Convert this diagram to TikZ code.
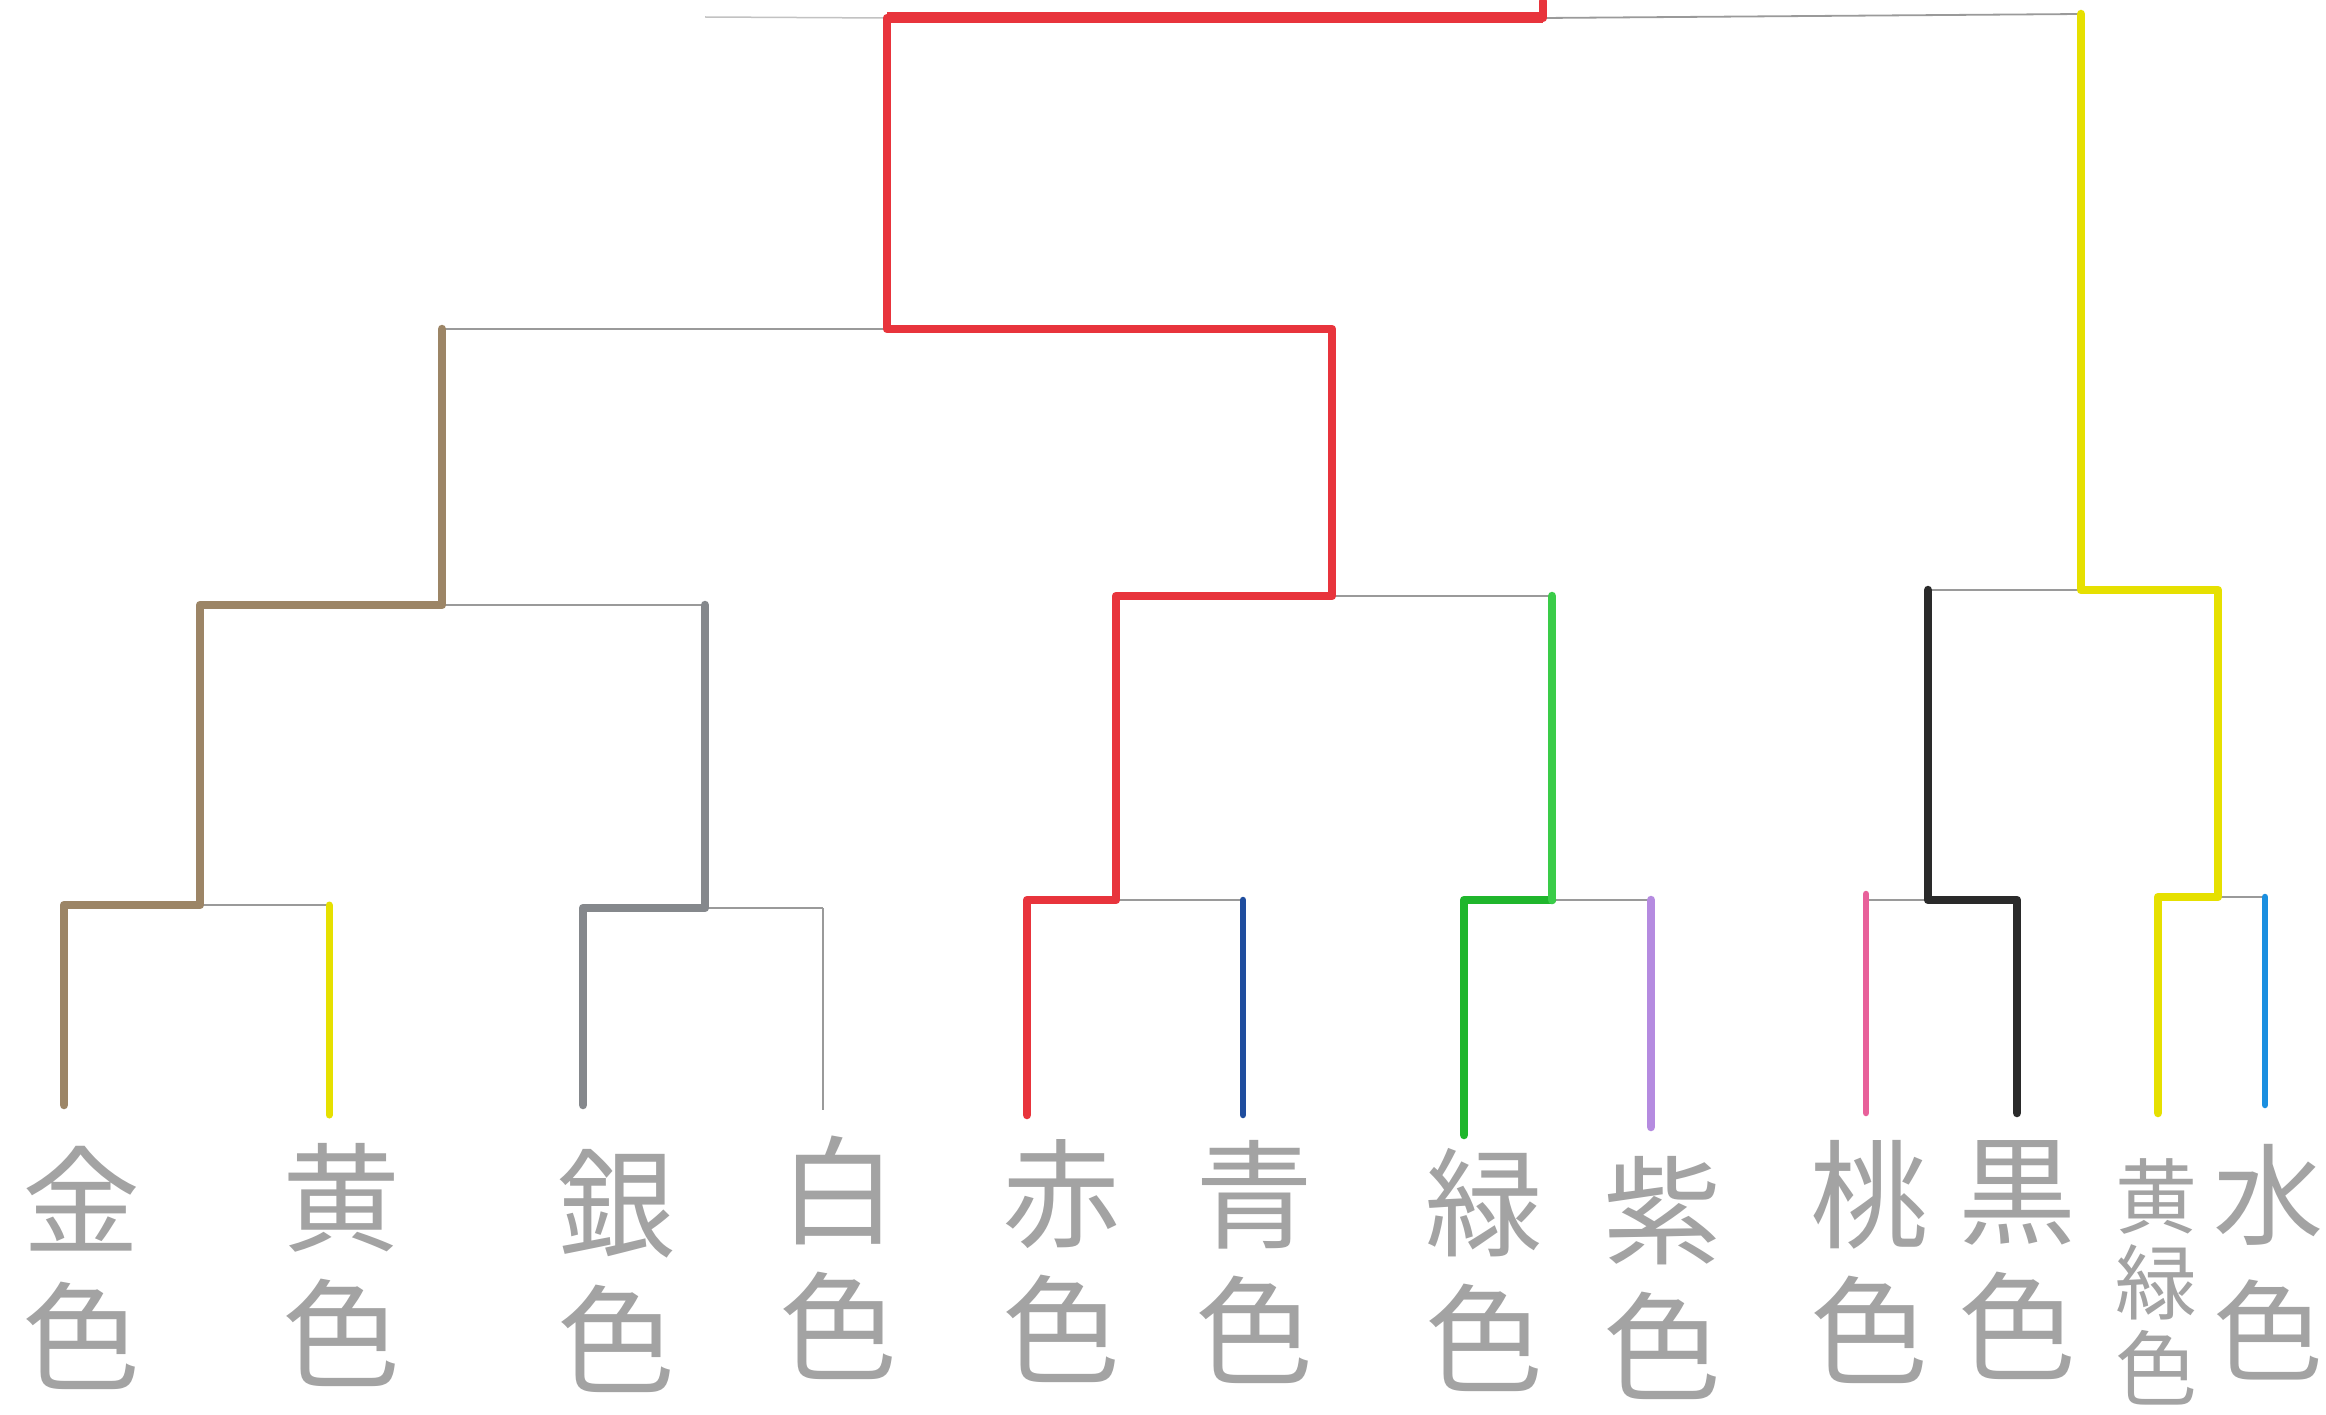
\documentclass[tikz,border=0pt]{standalone}
\usepackage{fontspec}
\newfontfamily\jp{Noto Sans CJK JP}
\definecolor{cred}{HTML}{E8343C}
\definecolor{cbrown}{HTML}{9C8566}
\definecolor{cgray}{HTML}{85888C}
\definecolor{cyellow}{HTML}{E6E000}
\definecolor{cgreen}{HTML}{1FB62C}
\definecolor{clgreen}{HTML}{3ACC48}
\definecolor{cpurple}{HTML}{B58BE0}
\definecolor{cblue}{HTML}{1F4D9E}
\definecolor{cpink}{HTML}{E8609A}
\definecolor{cblack}{HTML}{2A2A2A}
\definecolor{csky}{HTML}{1A8FE0}
\definecolor{cthin}{HTML}{9A9A9A}
\begin{document}
\begin{tikzpicture}[x=1pt,y=-1pt,
  thinline/.style={draw=cthin,line width=1.8pt},
  pencil/.style={line width=8.5pt,line cap=round,line join=round},
  lab/.style={font=\jp\fontsize{118}{136}\selectfont,text=black!36,inner sep=0pt,align=center},
  labsmall/.style={font=\jp\fontsize{82}{86}\selectfont,text=black!36,inner sep=0pt,align=center}]
\fill[white] (0,0) rectangle (2326,1415);
\useasboundingbox (0,0) rectangle (2326,1415);
% ---- junction coordinates ----
\coordinate (stub) at (705,17);
\coordinate (top0) at (887,18);
\coordinate (topm) at (1543,18);
\coordinate (topr) at (2081,14);
\coordinate (tick) at (1543,1);
\coordinate (s1l) at (442,329);
\coordinate (s1m) at (887,329);
\coordinate (s1r) at (1332,329);
\coordinate (qal) at (200,605);
\coordinate (qam) at (442,605);
\coordinate (qar) at (705,605);
\coordinate (qbl) at (1116,596);
\coordinate (qbm) at (1332,596);
\coordinate (qbr) at (1552,596);
\coordinate (qcl) at (1928,590);
\coordinate (qcm) at (2081,590);
\coordinate (qcr) at (2218,590);
\coordinate (r1l) at (64,905);
\coordinate (r1m) at (200,905);
\coordinate (r1r) at (329,905);
\coordinate (r2l) at (583,908);
\coordinate (r2m) at (705,908);
\coordinate (r2r) at (823,908);
\coordinate (r3l) at (1027,900);
\coordinate (r3m) at (1116,900);
\coordinate (r3r) at (1243,900);
\coordinate (r4l) at (1464,900);
\coordinate (r4m) at (1552,900);
\coordinate (r4r) at (1651,900);
\coordinate (r5l) at (1866,900);
\coordinate (r5m) at (1928,900);
\coordinate (r5r) at (2017,900);
\coordinate (r6l) at (2158,897);
\coordinate (r6m) at (2218,897);
\coordinate (r6r) at (2265,897);
\coordinate (e1) at (64,1105);
\coordinate (e2) at (329,1115);
\coordinate (e3) at (583,1105);
\coordinate (e4) at (823,1110);
\coordinate (e5) at (1027,1115);
\coordinate (e6) at (1243,1115);
\coordinate (e7) at (1464,1135);
\coordinate (e8) at (1651,1127);
\coordinate (e9) at (1866,1113);
\coordinate (e10) at (2017,1113);
\coordinate (e11) at (2158,1113);
\coordinate (e12) at (2265,1105);
% ---- thin pencil bracket ----
\draw[draw=cthin!60,line width=1.5pt] (stub) -- (top0);
\draw[thinline] (top0) -- (topm) -- (topr);
\draw[thinline] (s1l) -- (s1r);
\draw[thinline] (qal) -- (qar);
\draw[thinline] (qbl) -- (qbr);
\draw[thinline] (qcl) -- (qcr);
\draw[thinline] (r1l) -- (r1r);
\draw[thinline] (r2l) -- (r2r);
\draw[thinline] (r3l) -- (r3r);
\draw[thinline] (r4l) -- (r4r);
\draw[thinline] (r5l) -- (r5r);
\draw[thinline] (r6l) -- (r6r);
\draw[thinline] (r2r) -- (e4);
% ---- coloured winner paths ----
\draw[pencil,cbrown] (e1) -- (r1l) -- (r1m) -- (qal) -- (qam) -- (s1l);
\draw[pencil,cyellow,line width=7pt] (r1r) -- (e2);
\draw[pencil,cgray] (e3) -- (r2l) -- (r2m) -- (qar);
\draw[pencil,cred] (e5) -- (r3l) -- (r3m) -- (qbl) -- (qbm) -- (s1r) -- (s1m) -- (top0) -- (topm) -- (tick);
\draw[pencil,cred,line width=11pt,line cap=butt] (top0) -- (topm);
\draw[pencil,cblue,line width=6.5pt] (r3r) -- (e6);
\draw[pencil,cgreen] (e7) -- (r4l) -- (r4m);
\draw[pencil,clgreen] (r4m) -- (qbr);
\draw[pencil,cpurple] (r4r) -- (e8);
\draw[pencil,cpink,line width=6.5pt] ([yshift=6pt]r5l) -- (e9);
\draw[pencil,cblack] (e10) -- (r5r) -- (r5m) -- (qcl);
\draw[pencil,cyellow] (e11) -- (r6l) -- (r6m) -- (qcr) -- (qcm) -- (topr);
\draw[pencil,csky,line width=6.5pt] (r6r) -- (e12);
% ---- labels ----
\node[lab] (kin) at (82,1268) {金\\色};
\node[lab] (ki) at (341,1265) {黄\\色};
\node[lab] (gin) at (616,1271) {銀\\色};
\node[lab] (shiro) at (838,1258) {白\\色};
\node[lab] (aka) at (1061,1261) {赤\\色};
\node[lab] (ao) at (1254,1262) {青\\色};
\node[lab] (midori) at (1484,1270) {緑\\色};
\node[lab] (murasaki) at (1662,1278) {紫\\色};
\node[lab] (momo) at (1869,1262) {桃\\色};
\node[lab] (kuro) at (2017,1260) {黒\\色};
\node[labsmall] (kimidori) at (2156,1282) {黄\\緑\\色};
\node[lab,font=\jp\fontsize{110}{136}\selectfont] (mizu) at (2268,1262) {水\\色};
\end{tikzpicture}
\end{document}
